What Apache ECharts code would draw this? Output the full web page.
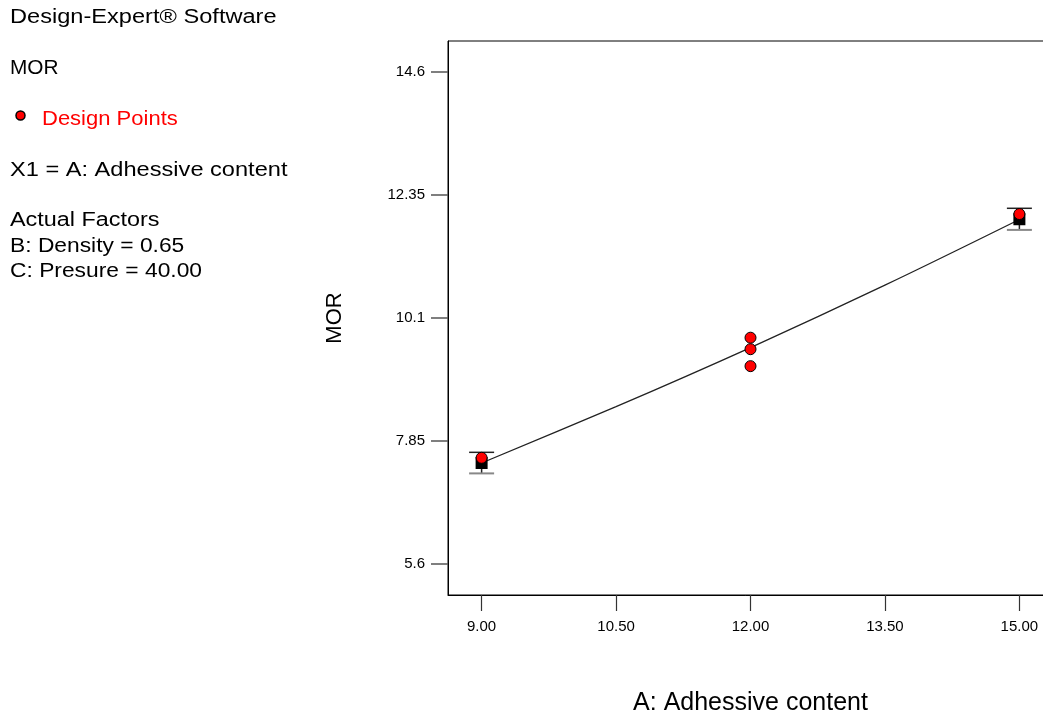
<!DOCTYPE html>
<html>
<head>
<meta charset="utf-8">
<script src="https://cdn.jsdelivr.net/npm/echarts@6/dist/echarts.min.js"></script>
<style>
html,body{margin:0;padding:0;background:#fff;}
#chart{width:1043px;height:713px;}
</style>
</head>
<body>
<div id="chart"></div>
<script>
// ---- data ----
var xTicks = [9.00, 10.50, 12.00, 13.50, 15.00];
var yTicks = [5.6, 7.85, 10.1, 12.35, 14.6];

// model prediction line (read at the tick positions)
var lineX = [9, 10.5, 12, 13.5, 15];
var lineY = [7.45, 8.48, 9.56, 10.70, 11.90];

// design points
var pointX = [9, 12, 12, 12, 15];
var pointY = [7.545, 9.74, 9.53, 9.22, 12.0];

// LSD bars at the end points: x, prediction, low, high
var barX    = [9, 15];
var barPred = [7.45, 11.905];
var barLow  = [7.26, 11.71];
var barHigh = [7.645, 12.105];

// side panel texts
var infoTexts = [
  'Design-Expert® Software',
  'MOR',
  'Design Points',
  'X1 = A: Adhessive content',
  'Actual Factors',
  'B: Density = 0.65',
  'C: Presure = 40.00'
];

var FONT = "'Liberation Sans', Arial, sans-serif";

// layout for side panel (positions/styles, kept apart from the texts)
var infoLayout = [
  {x: 10, y: 17, c: '#000', s: 1.18},
  {x: 10, y: 68, c: '#000', s: 1.04},
  {x: 42, y: 119, c: '#ff0000', s: 1.1},
  {x: 10, y: 170, c: '#000', s: 1.18},
  {x: 10, y: 220, c: '#000', s: 1.17},
  {x: 10, y: 246, c: '#000', s: 1.14},
  {x: 10, y: 271, c: '#000', s: 1.14}
];

var chart = echarts.init(document.getElementById('chart'), null, {renderer: 'canvas'});

var lineData = lineX.map(function (x, i) { return [x, lineY[i]]; });
var pointData = pointX.map(function (x, i) { return [x, pointY[i]]; });
var barData = barX.map(function (x, i) { return [x, barPred[i], barLow[i], barHigh[i]]; });

var graphics = infoTexts.map(function (t, i) {
  var l = infoLayout[i];
  return {
    type: 'text',
    x: l.x,
    y: l.y,
    scaleX: l.s,
    style: {
      text: t,
      fill: l.c,
      fontSize: 20,
      fontFamily: FONT,
      verticalAlign: 'middle',
      align: 'left'
    }
  };
});
graphics.push({
  type: 'circle',
  shape: {cx: 20.5, cy: 115.5, r: 4.5},
  style: {fill: '#ff0000', stroke: '#000', lineWidth: 1.5}
});

var option = {
  backgroundColor: '#fff',
  animation: false,
  graphic: graphics,
  grid: {
    left: 448,
    top: 41,
    width: 605,
    height: 554,
    containLabel: false,
    outerBoundsMode: 'none',
    show: true,
    borderColor: '#000',
    borderWidth: 1,
    backgroundColor: 'transparent'
  },
  xAxis: {
    type: 'value',
    min: 8.625,
    max: 15.375,
    name: 'A: Adhessive content',
    nameLocation: 'middle',
    nameGap: 96,
    nameTextStyle: {fontSize: 25, color: '#000', fontFamily: FONT},
    axisLine: {show: true, lineStyle: {color: '#000', width: 1}},
    axisTick: {show: true, length: 16, inside: false, customValues: xTicks, lineStyle: {color: '#333', width: 1.2}},
    axisLabel: {
      show: true,
      customValues: xTicks,
      margin: 24,
      fontSize: 15,
      color: '#000',
      fontFamily: FONT,
      formatter: function (v) { return Number(v).toFixed(2); }
    },
    splitLine: {show: false}
  },
  yAxis: {
    type: 'value',
    min: 5.0375,
    max: 15.1625,
    name: 'MOR',
    nameLocation: 'middle',
    nameGap: 102,
    nameRotate: 90,
    nameTextStyle: {fontSize: 22, color: '#000', fontFamily: FONT},
    axisLine: {show: true, lineStyle: {color: '#000', width: 1}},
    axisTick: {show: true, length: 17, inside: false, customValues: yTicks, lineStyle: {color: '#555', width: 1.5}},
    axisLabel: {
      show: true,
      customValues: yTicks,
      margin: 23,
      fontSize: 15,
      color: '#000',
      fontFamily: FONT,
      formatter: function (v) { return String(v); }
    },
    splitLine: {show: false}
  },
  series: [
    {
      type: 'line',
      data: lineData,
      smooth: 0.3,
      symbol: 'none',
      lineStyle: {color: '#222', width: 1.3},
      z: 2,
      silent: true
    },
    {
      type: 'custom',
      data: barData,
      z: 3,
      silent: true,
      renderItem: function (params, api) {
        var x = api.value(0);
        var pc = api.coord([x, api.value(1)]);
        var lo = api.coord([x, api.value(2)]);
        var hi = api.coord([x, api.value(3)]);
        var hw = 12.5;
        var sq = 12;
        return {
          type: 'group',
          children: [
            {type: 'line', shape: {x1: hi[0], y1: hi[1], x2: lo[0], y2: lo[1]}, style: {stroke: '#222', lineWidth: 1.5}},
            {type: 'line', shape: {x1: hi[0] - hw, y1: hi[1], x2: hi[0] + hw, y2: hi[1]}, style: {stroke: '#222', lineWidth: 1.5}},
            {type: 'line', shape: {x1: lo[0] - hw, y1: lo[1], x2: lo[0] + hw, y2: lo[1]}, style: {stroke: '#888', lineWidth: 2}},
            {type: 'rect', shape: {x: pc[0] - sq / 2, y: pc[1] - sq / 2, width: sq, height: sq}, style: {fill: '#000'}}
          ]
        };
      }
    },
    {
      type: 'scatter',
      data: pointData,
      symbol: 'circle',
      symbolSize: 11,
      itemStyle: {color: '#ff0000', borderColor: '#000', borderWidth: 1, opacity: 1},
      z: 4,
      silent: true
    }
  ]
};

chart.setOption(option);
</script>
</body>
</html>
